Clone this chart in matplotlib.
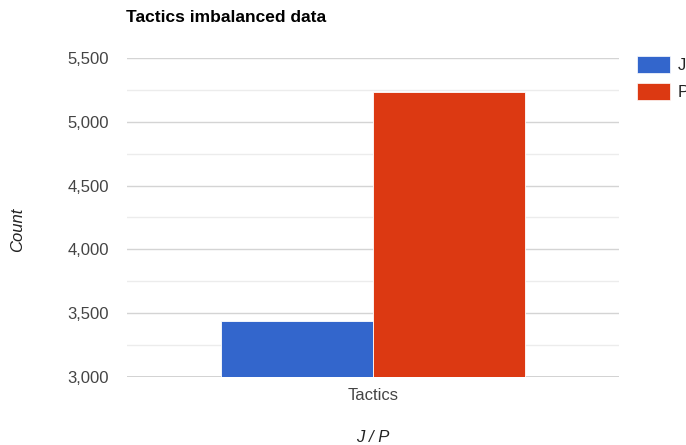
import matplotlib
matplotlib.use("Agg")
import matplotlib.pyplot as plt
from matplotlib.patches import Patch
import numpy as np

plt.rcParams['font.family'] = ['Liberation Sans', 'DejaVu Sans']

title = "Tactics imbalanced data"
categories = ["Tactics"]
series_names = ["J", "P"]
series_values = [[3435], [5232]]
colors = ["#3366cc", "#dc3912"]
y_ticks = [3000, 3500, 4000, 4500, 5000, 5500]
y_tick_labels = ["3,000", "3,500", "4,000", "4,500", "5,000", "5,500"]
x_label = "J / P"
y_label = "Count"

W, H = 686, 445
fig = plt.figure(figsize=(W / 100, H / 100), dpi=100)
ax = fig.add_axes([127 / W, (H - 377) / H, (619 - 127) / W, (377 - 58) / H])

x = np.arange(len(categories))
bw = 0.309
n = len(series_names)
for i, (name, vals, c) in enumerate(zip(series_names, series_values, colors)):
    off = (i - (n - 1) / 2) * bw
    ax.bar(x + off, vals, width=bw, color=c, edgecolor='white', linewidth=0.6,
           label=name, zorder=3)

ax.set_xlim(-0.5, 0.5)
ax.set_ylim(3000, 5500)
ax.set_yticks(y_ticks)
ax.set_yticklabels(y_tick_labels)
ax.set_yticks(np.arange(3000, 5501, 250), minor=True)
ax.grid(axis='y', which='major', color='#d4d4d4', linewidth=1, zorder=0)
ax.grid(axis='y', which='minor', color='#ececec', linewidth=1, zorder=0)
ax.axhline(3000, color='#cccccc', linewidth=1.2, zorder=2)
ax.set_xticks(x)
ax.set_xticklabels(categories)
for s in ax.spines.values():
    s.set_visible(False)
ax.tick_params(axis='both', which='both', length=0, labelsize=12, colors='#444444')
ax.tick_params(axis='y', pad=13)
ax.tick_params(axis='x', pad=8)

fig.text(126 / W, 1 - 18 / H, title, fontsize=12.5, fontweight='bold', color='#000000',
         ha='left', va='center')
fig.text(373 / W, 1 - 437 / H, x_label, fontsize=12, style='italic', color='#222222',
         ha='center', va='center')
fig.text(18 / W, 1 - 230 / H, y_label, fontsize=12, style='italic', color='#222222',
         ha='center', va='center', rotation=90)

handles = [Patch(facecolor=c, edgecolor='white', linewidth=0.5) for c in colors]
fig.legend(handles, series_names, loc='upper left',
           bbox_to_anchor=(637 / W, 1 - 56 / H), frameon=False, fontsize=12,
           borderpad=0, borderaxespad=0, handlelength=2.0, handleheight=1.2,
           handletextpad=0.45, labelspacing=0.6, labelcolor='#222222')

fig.savefig("out.png", dpi=100)
